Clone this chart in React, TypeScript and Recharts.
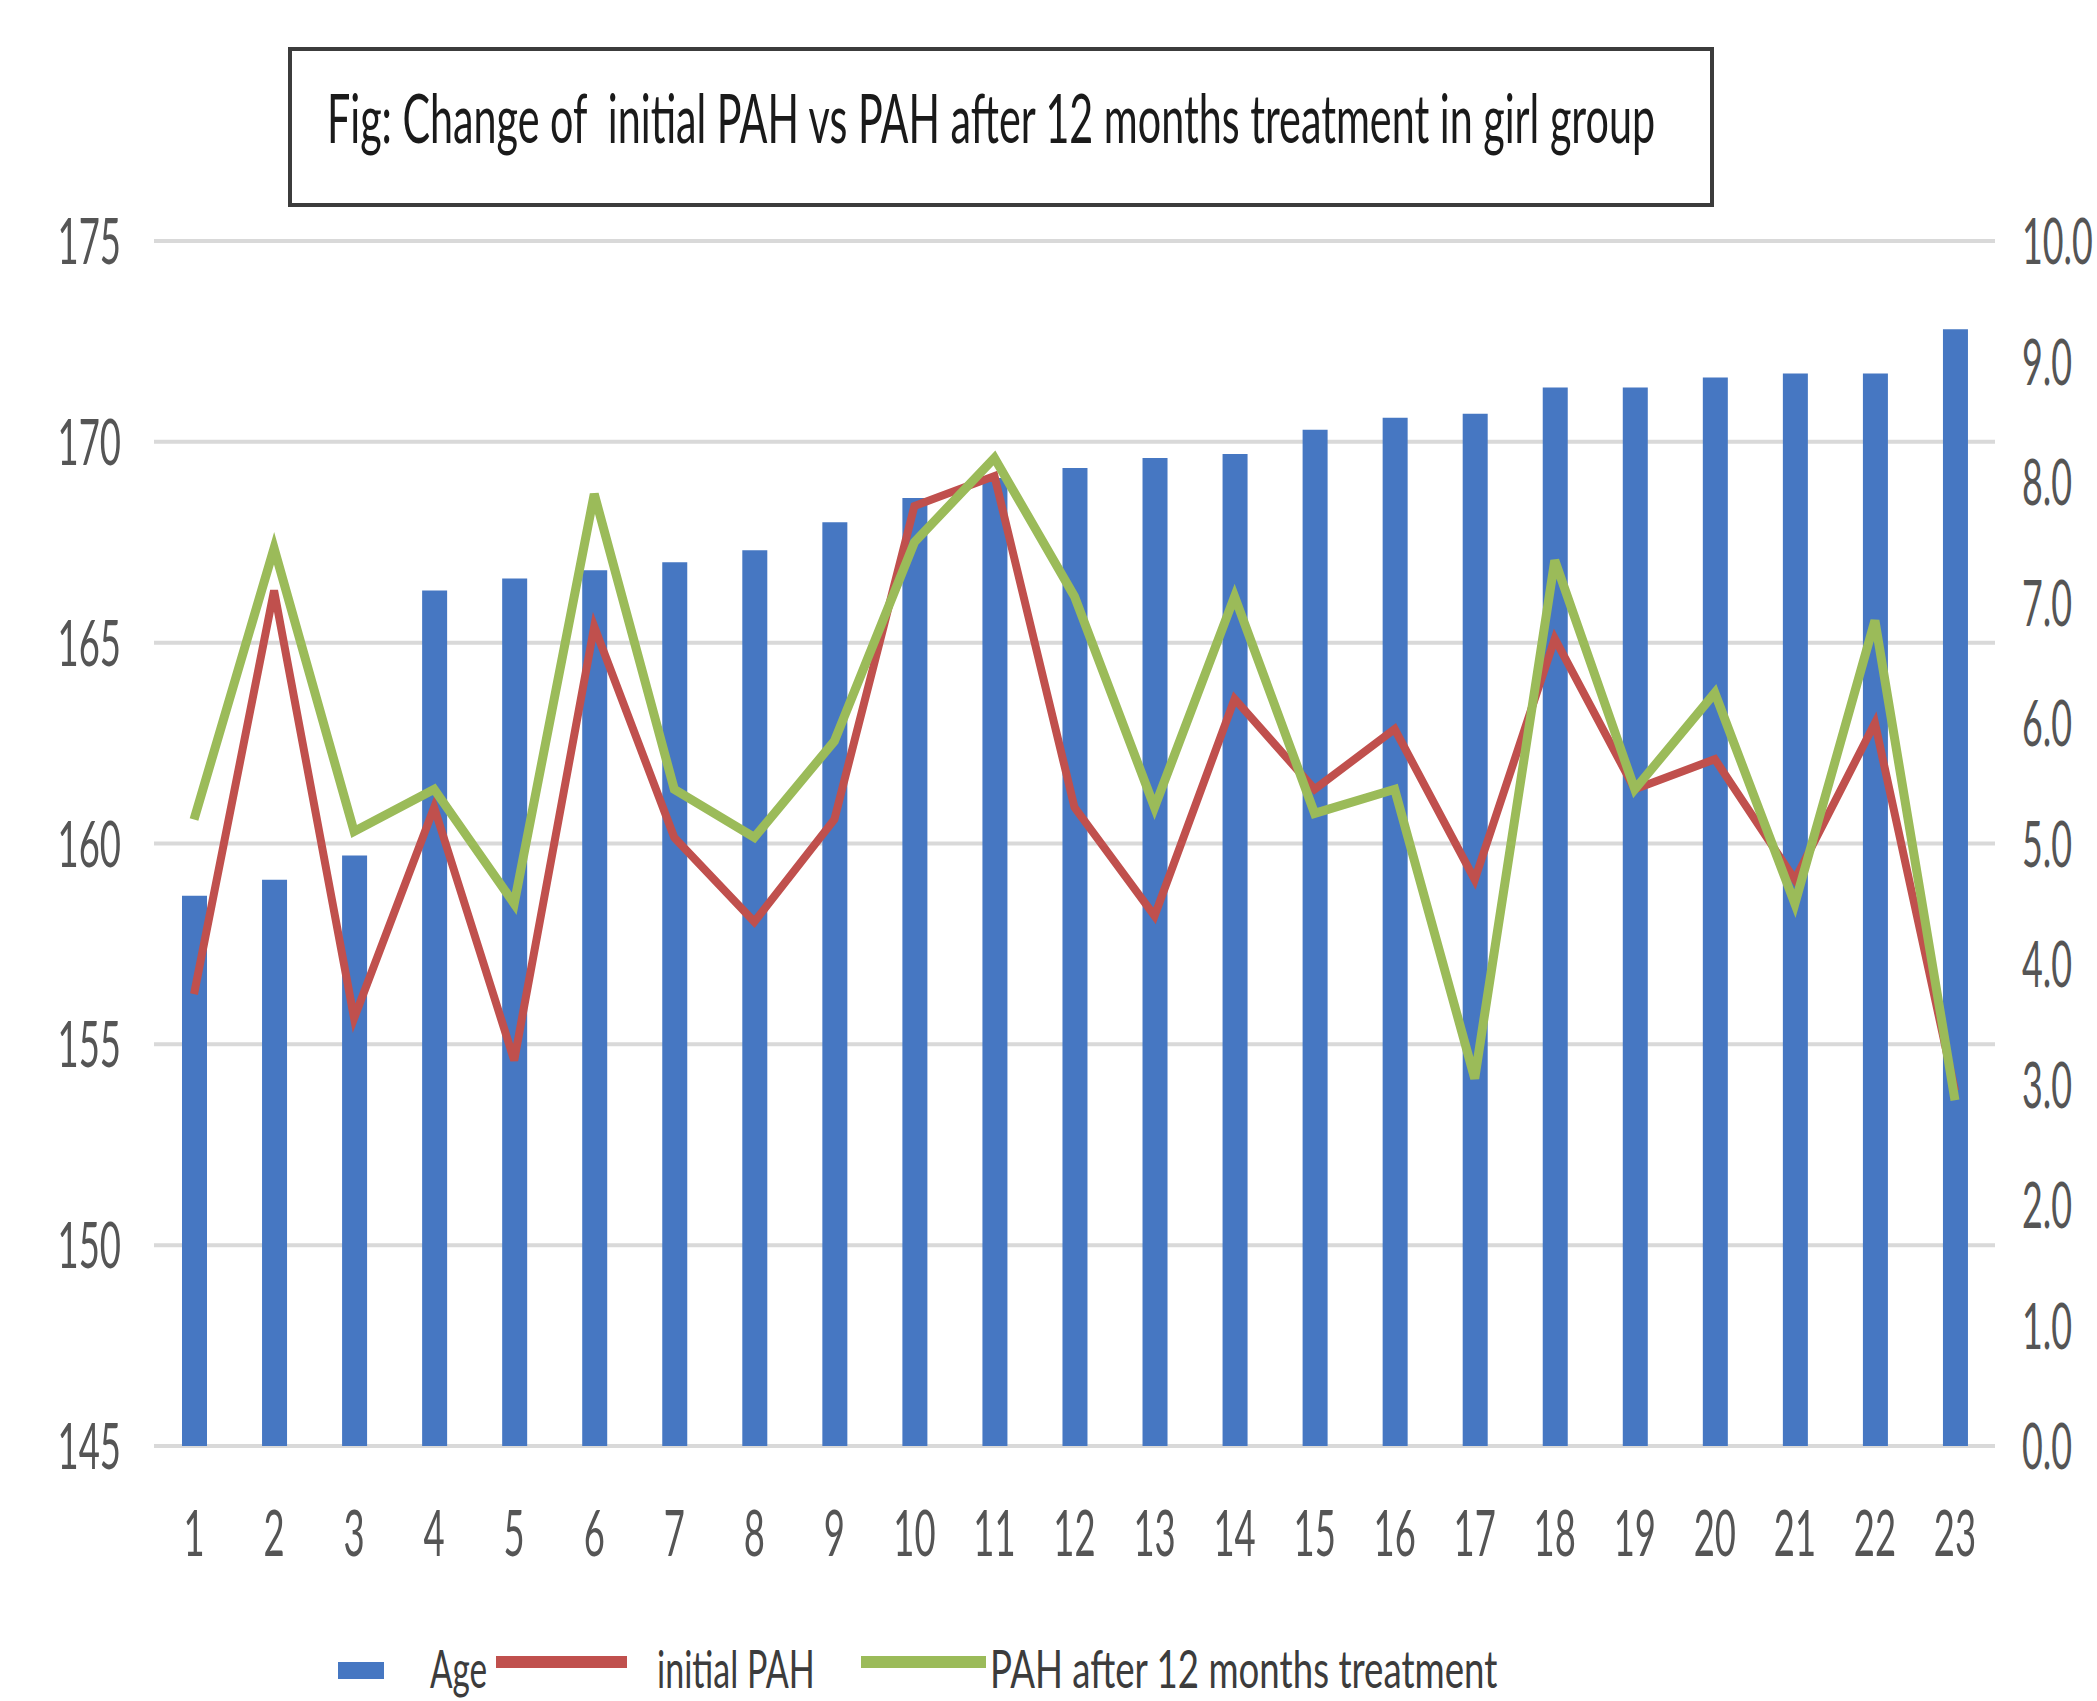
import React from 'react';
import { ComposedChart, Bar, Line, XAxis, YAxis, CartesianGrid, Legend } from 'recharts';

const categories = ['1', '2', '3', '4', '5', '6', '7', '8', '9', '10', '11', '12', '13', '14', '15', '16', '17', '18', '19', '20', '21', '22', '23'];
const ageValues = [158.7, 159.1, 159.7, 166.3, 166.6, 166.8, 167.0, 167.3, 168.0, 168.6, 169.1, 169.35, 169.6, 169.7, 170.3, 170.6, 170.7, 171.35, 171.35, 171.6, 171.7, 171.7, 172.8];
const initialPAH = [3.75, 7.1, 3.55, 5.3, 3.2, 6.8, 5.05, 4.35, 5.2, 7.8, 8.05, 5.3, 4.4, 6.2, 5.45, 5.95, 4.7, 6.7, 5.45, 5.7, 4.7, 6.0, 2.95];
const pahAfter12 = [5.2, 7.45, 5.1, 5.45, 4.5, 7.9, 5.45, 5.05, 5.85, 7.5, 8.2, 7.05, 5.3, 7.05, 5.25, 5.45, 3.05, 7.35, 5.45, 6.25, 4.5, 6.85, 2.87];
const leftTicks = [145, 150, 155, 160, 165, 170, 175];
const rightTicks = [0, 1, 2, 3, 4, 5, 6, 7, 8, 9, 10];

const titleText = 'Fig: Change of  initial PAH vs PAH after 12 months treatment in girl group';
const seriesNames = ['Age', 'initial PAH', 'PAH after 12 months treatment'];

const data = categories.map((c, i) => ({
  name: c,
  age: ageValues[i],
  initial: initialPAH[i],
  after: pahAfter12[i],
}));

const FONT = 'Lato, "Open Sans", "DejaVu Sans", sans-serif';
const SX = 0.57;
const BLUE = '#4677C2';
const RED = '#C0504D';
const GREEN = '#9BBB59';
const TICK_COLOR = '#555555';
const LEGEND_COLOR = '#3c3c3c';

const LeftTick = (props: any) => {
  const { x, y, payload } = props;
  return (
    <g transform={`translate(${x},${y}) scale(${SX},1)`}>
      <text x={0} y={0} dy={23} textAnchor="end" fontFamily={FONT} fontSize={64} fill={TICK_COLOR}>
        {payload.value}
      </text>
    </g>
  );
};

const RightTick = (props: any) => {
  const { x, y, payload } = props;
  return (
    <g transform={`translate(${x},${y}) scale(0.56,1)`}>
      <text x={0} y={0} dy={23} textAnchor="start" fontFamily={FONT} fontSize={64} fill={TICK_COLOR}>
        {Number(payload.value).toFixed(1)}
      </text>
    </g>
  );
};

const BottomTick = (props: any) => {
  const { x, y, payload } = props;
  return (
    <g transform={`translate(${x},${y + 110}) scale(${SX},1)`}>
      <text x={0} y={0} textAnchor="middle" fontFamily={FONT} fontSize={64} fill={TICK_COLOR}>
        {payload.value}
      </text>
    </g>
  );
};

const LegendText = ({ x, y, sx, children }: any) => (
  <g transform={`translate(${x},${y}) scale(${sx},1)`}>
    <text x={0} y={0} fontFamily={FONT} fontSize={52} fill={LEGEND_COLOR}>
      {children}
    </text>
  </g>
);

const renderLegend = () => (
  <svg width={2097} height={71} style={{ display: 'block', overflow: 'visible' }}>
    <rect x={338} y={32} width={46} height={17} fill={BLUE} />
    <LegendText x={430} y={58} sx={0.64}>{seriesNames[0]}</LegendText>
    <line x1={496} x2={627} y1={32} y2={32} stroke={RED} strokeWidth={12} />
    <LegendText x={657} y={58} sx={0.655}>{seriesNames[1]}</LegendText>
    <line x1={861} x2={986} y1={32} y2={32} stroke={GREEN} strokeWidth={12} />
    <LegendText x={990} y={58} sx={0.705}>{seriesNames[2]}</LegendText>
  </svg>
);

export default function App() {
  return (
    <div style={{ position: 'absolute', left: 0, top: 0, width: 2097, height: 1701, background: '#ffffff', overflow: 'hidden' }}>
      <ComposedChart
        width={2097}
        height={1701}
        data={data}
        margin={{ top: 241, right: 0, bottom: 195, left: 54 }}
        barCategoryGap={0}
      >
        <CartesianGrid yAxisId="left" vertical={false} stroke="#d9d9d9" strokeWidth={4} />
        <XAxis
          dataKey="name"
          interval={0}
          height={60}
          axisLine={false}
          tickLine={false}
          tickSize={0}
          tickMargin={0}
          tick={<BottomTick />}
        />
        <YAxis
          yAxisId="left"
          orientation="left"
          width={100}
          domain={[145, 175]}
          ticks={leftTicks}
          axisLine={false}
          tickLine={false}
          tickSize={0}
          tickMargin={33}
          allowDataOverflow
          tick={<LeftTick />}
        />
        <YAxis
          yAxisId="right"
          orientation="right"
          width={102}
          domain={[0, 10]}
          ticks={rightTicks}
          axisLine={false}
          tickLine={false}
          tickSize={0}
          tickMargin={27}
          tick={<RightTick />}
        />
        <Bar yAxisId="left" dataKey="age" name={seriesNames[0]} fill={BLUE} barSize={25} isAnimationActive={false} />
        <Line
          yAxisId="right"
          type="linear"
          dataKey="initial"
          name={seriesNames[1]}
          stroke={RED}
          strokeWidth={8}
          dot={false}
          activeDot={false}
          isAnimationActive={false}
        />
        <Line
          yAxisId="right"
          type="linear"
          dataKey="after"
          name={seriesNames[2]}
          stroke={GREEN}
          strokeWidth={9}
          dot={false}
          activeDot={false}
          isAnimationActive={false}
        />
        <Legend
          layout="vertical"
          align="center"
          verticalAlign="middle"
          content={renderLegend}
          wrapperStyle={{ position: 'absolute', left: 0, top: 1630, width: 2097, height: 71 }}
        />
      </ComposedChart>
      <svg
        width={2097}
        height={260}
        style={{ position: 'absolute', left: 0, top: 0, pointerEvents: 'none' }}
      >
        <rect x={290} y={49} width={1422} height={156} fill="#ffffff" stroke="#3c3c3c" strokeWidth={4} />
        <g transform="translate(327,143) scale(0.616,1)">
          <text x={0} y={0} fontFamily={FONT} fontSize={67} fill="#1a1a1a" style={{ whiteSpace: 'pre' }}>
            {titleText}
          </text>
        </g>
      </svg>
    </div>
  );
}
